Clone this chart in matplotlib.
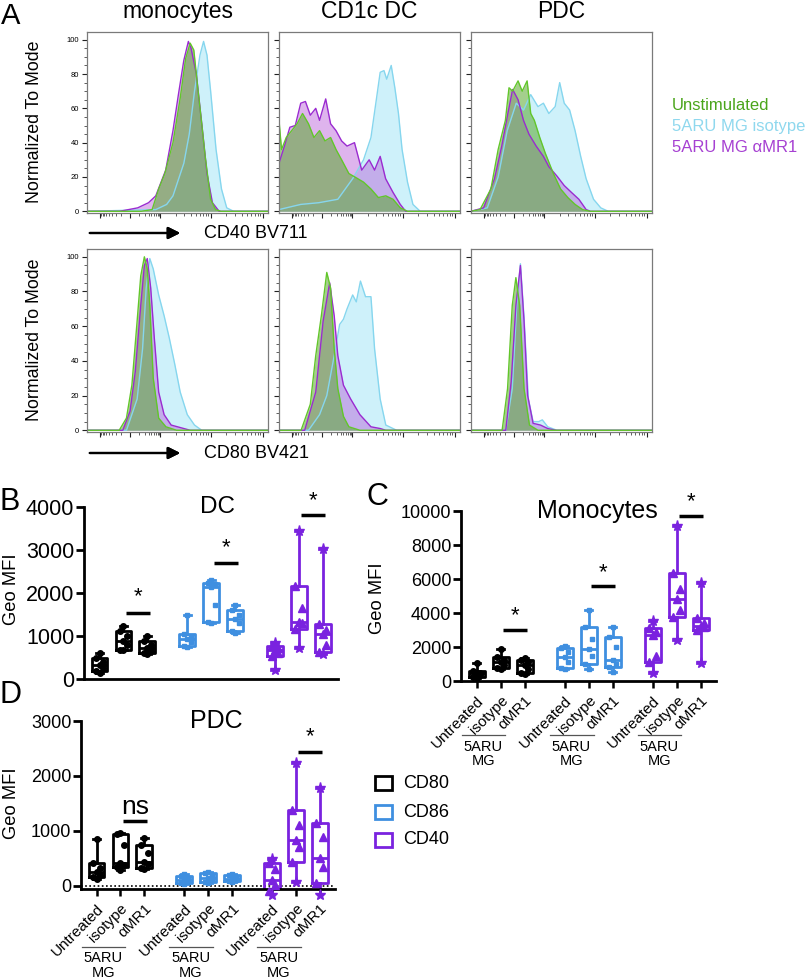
import numpy as np
import matplotlib
matplotlib.use('Agg')
import matplotlib.pyplot as plt
from matplotlib.patches import Rectangle
from matplotlib.transforms import blended_transform_factory

plt.rcParams['font.family'] = ['Liberation Sans', 'DejaVu Sans']

# ---------------- panel A: histograms (x = % of axis width, y = % of mode)
mono_cd40_green = [(0, 0), (30, 0), (36, 1), (39.6, 13), (43, 22), (47.5, 40), (51.5, 66), (54.5, 89), (57, 98),
                   (59, 94), (61.4, 70), (63.5, 50), (65.3, 32), (68.3, 7), (71, 1), (74, 0), (100, 0)]
mono_cd40_purple = [(0, 0), (18, 0), (28, 2), (34, 5), (38, 9), (43.5, 24), (47.5, 47), (50.5, 68), (53.5, 88),
                    (56, 99), (57.5, 95), (60.4, 80), (63.4, 51), (66.3, 22), (69.3, 5), (73, 0), (100, 0)]
mono_cd40_blue = [(0, 0), (38, 1), (44, 4), (47.5, 9), (53.5, 28), (56.5, 45), (59.4, 70), (62.4, 91), (64.4, 99),
                  (66.3, 91), (68.3, 70), (71.3, 36), (74.3, 13), (77.2, 2), (81, 0), (100, 0)]

dc_cd40_green = [(0, 53), (1.4, 36), (4, 43), (7, 47), (10, 51), (13, 57), (16.3, 51), (19.3, 43), (22.4, 47),
                 (25.4, 41), (28.5, 43), (31.5, 36), (34.6, 30), (38.6, 22), (42.7, 19.5), (46.7, 17), (50.8, 13),
                 (54.9, 8), (59, 9), (63, 7), (67, 2), (71, 0), (100, 0)]
dc_cd40_purple = [(0, 28), (3, 38), (6, 49), (9, 50), (12, 63), (14.6, 64), (17.3, 56), (20.3, 60), (22.4, 53),
                  (25.8, 65.5), (28.5, 51), (31.5, 47), (34.6, 41), (37.6, 38), (41.7, 40), (45.7, 24), (49.8, 30),
                  (52.8, 24), (55.9, 32), (58.9, 19), (63, 11), (67, 4), (70, 0), (100, 0)]
dc_cd40_blue = [(0, 1), (12, 4), (22, 5), (32.5, 7), (40.7, 19), (46.7, 30), (50.8, 43), (53.9, 66), (55.9, 81),
                (58, 82), (59.5, 77), (62, 85), (64, 72), (66, 57), (68, 36), (71, 17), (74, 4), (78, 0), (100, 0)]

pdc_cd40_green = [(0, 0), (5, 1), (11, 13), (15, 36), (19, 53), (21, 72), (23, 70), (26, 76), (28.3, 70), (31, 76),
                  (33, 57), (35, 53), (38, 43), (41, 34), (45.5, 22), (49.5, 13), (53.5, 8), (57.5, 4), (61.6, 1),
                  (65.6, 0), (100, 0)]
pdc_cd40_purple = [(0, 0), (7, 2), (13, 19), (17, 38), (20, 55), (23, 71), (26, 65), (29, 53), (32, 45), (36, 38),
                   (40, 32), (43, 26), (47.5, 20.5), (51.5, 15), (55.5, 11), (59.6, 7), (63.6, 1), (66, 0), (100, 0)]
pdc_cd40_blue = [(0, 0), (9, 2), (15, 20), (20, 47), (25, 63), (29, 59), (33, 68), (37, 61), (40, 63), (43, 57),
                 (46.5, 61), (49, 75), (51.5, 63), (54.5, 59), (57.5, 47), (60.6, 32), (63.6, 19), (67.7, 7),
                 (71.7, 2), (75.8, 0), (100, 0)]

mono_cd80_green = [(0, 0), (17.8, 0), (21.8, 7), (24.8, 26), (27.7, 63), (29.7, 89), (31.7, 100), (33.3, 93),
                   (34.7, 72), (36.6, 30), (39.6, 7), (43.6, 2), (49.5, 0), (100, 0)]
mono_cd80_purple = [(0, 0), (19.8, 0), (23.8, 11), (26.7, 34), (29.7, 72), (31.7, 95), (33.3, 99), (35.2, 82),
                    (37.2, 53), (39.6, 22), (42.6, 9), (46.5, 3), (53.5, 1), (57, 0), (100, 0)]
mono_cd80_blue = [(0, 0), (21.8, 0), (27.7, 18), (30.7, 47), (32.7, 82), (34.7, 99), (36.6, 93), (39.6, 78),
                  (42.6, 66), (45.5, 53), (48.5, 38), (51.5, 22), (55.4, 9), (59.4, 3), (63.4, 0), (100, 0)]

dc_cd80_green = [(0, 0), (12.2, 0), (17.3, 15), (20.3, 43), (23.4, 66), (26.4, 91), (28.5, 82), (30.5, 47),
                 (32.5, 24), (35.6, 8), (38.6, 2), (44.7, 0), (100, 0)]
dc_cd80_purple = [(0, 0), (14.2, 0), (20.3, 22), (24.4, 63), (28, 85), (30.5, 66), (32.5, 43), (35.6, 26),
                  (39.6, 18), (44.7, 9), (50.8, 2), (55.9, 1), (59, 0), (100, 0)]
dc_cd80_blue = [(0, 0), (16.3, 0), (22.4, 9), (26.4, 20), (30.5, 43), (33.5, 61), (35.6, 64), (37.6, 70),
                (40.7, 78), (42.7, 74), (45, 86), (47.8, 77), (50.8, 77), (52.8, 47), (55.9, 18), (59, 3),
                (65, 0), (100, 0)]

pdc_cd80_green = [(0, 0), (17.2, 0), (20.2, 24), (22.8, 72), (24.8, 88), (26.9, 72), (29.3, 24), (32.3, 3),
                  (37, 0), (100, 0)]
pdc_cd80_purple = [(0, 0), (19.2, 0), (22.2, 28), (24.8, 72), (27.3, 95), (29.3, 63), (31.3, 20), (34.3, 4),
                   (38.4, 3), (42.4, 1), (47, 0), (100, 0)]
pdc_cd80_blue = [(0, 0), (19.2, 0), (22.8, 24), (25.3, 72), (27.3, 96), (29.3, 65), (31.7, 18), (34.3, 5),
                 (37.4, 5), (39.4, 6), (42.4, 2), (47.5, 0), (100, 0)]

hist_titles = ['monocytes', 'CD1c DC', 'PDC']
legend_a = ['Unstimulated', '5ARU MG isotype', '5ARU MG \u03b1MR1']

# ---------------- panels B-D: Geo MFI, 7 donors per condition
xlabels = ['Untreated', 'isotype', '\u03b1MR1']
markers = ['CD80', 'CD86', 'CD40']

dc_cd80 = [[140, 190, 260, 330, 400, 490, 610], [670, 685, 800, 880, 1000, 1118, 1236],
           [583, 606, 650, 724, 800, 882, 1000]]
dc_cd86 = [[748, 764, 850, 921, 980, 1039, 1488], [1300, 1315, 1727, 2150, 2200, 2234, 2312],
           [1063, 1118, 1300, 1394, 1500, 1609, 1727]]
dc_cd40 = [[213, 528, 600, 685, 720, 764, 843], [724, 1157, 1300, 1315, 1648, 2156, 3445],
           [590, 622, 800, 1039, 1150, 1276, 3031]]

mono_cd80 = [[155, 252, 350, 446, 500, 600, 1066], [678, 736, 950, 1124, 1250, 1415, 1903],
             [407, 446, 700, 930, 1100, 1221, 1360]]
mono_cd86 = [[698, 736, 1100, 1400, 1700, 1942, 2039], [678, 1027, 1500, 1903, 2500, 3163, 4190],
             [543, 833, 1000, 1221, 2000, 2581, 3163]]
mono_cd40 = [[446, 1124, 1500, 2700, 2900, 3105, 3550], [2388, 3744, 4200, 4810, 5400, 6360, 9112],
             [1066, 3027, 3150, 3260, 3400, 3686, 5779]]

pdc_cd80 = [[121, 158, 200, 261, 321, 424, 848], [291, 352, 390, 412, 745, 940, 960],
            [309, 321, 400, 442, 600, 745, 867]]
pdc_cd86 = [[40, 60, 90, 110, 140, 190, 210], [50, 70, 120, 140, 180, 230, 260],
            [70, 85, 110, 130, 160, 200, 220]]
pdc_cd40 = [[-164, -85, 20, 100, 300, 412, 485], [79, 442, 715, 836, 1109, 1382, 2230],
            [-164, 61, 352, 503, 897, 1139, 1788]]

# significance bars (marker group, bar height, label height, label)
dc_sig = [(0, 1531, 1922, '*'), (1, 2703, 3055, '*'), (2, 3812, 4148, '*')]
mono_sig = [(0, 3027, 3841, '*'), (1, 5585, 6360, '*'), (2, 9694, 10527, '*')]
pdc_sig = [(0, 1188, 1440, 'ns'), (2, 2436, 2709, '*')]

# ---------------------------------------------------------------- layout
W, H = 810, 980
fig = plt.figure(figsize=(W / 100, H / 100), dpi=100)


def axes_px(x0, y0, x1, y1):
    return fig.add_axes([x0 / W, 1 - y1 / H, (x1 - x0) / W, (y1 - y0) / H])


def ftext(x, y, s, **kw):
    fig.text(x / W, 1 - y / H, s, **kw)


GREEN, LBLUE, PURP = '#62c62a', '#86d6ee', '#9a2bd0'

hist_rows = [[mono_cd40_green, mono_cd40_purple, mono_cd40_blue],
             [dc_cd40_green, dc_cd40_purple, dc_cd40_blue],
             [pdc_cd40_green, pdc_cd40_purple, pdc_cd40_blue]], \
            [[mono_cd80_green, mono_cd80_purple, mono_cd80_blue],
             [dc_cd80_green, dc_cd80_purple, dc_cd80_blue],
             [pdc_cd80_green, pdc_cd80_purple, pdc_cd80_blue]]

col_x = [(87, 268), (279, 460), (471, 652)]
row_y = [(32, 213), (249, 432)]

# biexponential-looking tick marks
maj = [7, 24, 40.6, 68.3, 97]
mnr = [24 - 17 * np.log10(k) for k in range(2, 10)]
for a, b in [(24, 40.6), (40.6, 68.3), (68.3, 97)]:
    mnr += [a + (b - a) * np.log10(k) for k in range(2, 10)]

for r, row in enumerate(hist_rows):
    for c, (g, p, b) in enumerate(row):
        ax = axes_px(col_x[c][0], row_y[r][0], col_x[c][1], row_y[r][1])
        for curve, fc, ec, al in [(b, '#aee9f8', LBLUE, 0.6), (p, '#b65ad8', PURP, 0.45),
                                  (g, '#5aa82e', GREEN, 0.55)]:
            xs, ys = zip(*curve)
            ax.fill_between(xs, ys, color=fc, alpha=al, lw=0)
            ax.plot(xs, ys, color=ec, lw=1)
        ax.set_xlim(0, 100)
        ax.set_ylim(-1, 104.5)
        ax.set_yticks(range(0, 101, 20))
        ax.set_yticks(range(0, 101, 5), minor=True)
        ax.set_xticks(maj)
        ax.set_xticks(mnr, minor=True)
        ax.set_xticklabels([])
        ax.tick_params(axis='both', which='major', length=3.5, width=0.8, color='#222',
                       labelsize=5.5, pad=2)
        ax.tick_params(axis='both', which='minor', length=2, width=0.6, color='#444')
        if c > 0:
            ax.set_yticklabels([])
        for s in ax.spines.values():
            s.set_color('#7a7a7a')
            s.set_linewidth(0.9)
        if r == 0:
            ax.set_title(hist_titles[c], fontsize=16.5, pad=10)

ftext(11, 16, 'A', fontsize=21, ha='center', va='center')
for yc in [122, 340]:
    ftext(35, yc, 'Normalized To Mode', fontsize=12.8, rotation=90, ha='center', va='center')
for yc, lab in [(233, 'CD40 BV711'), (453, 'CD80 BV421')]:
    fig.add_artist(plt.annotate('', xy=(183, H - yc), xytext=(87, H - yc), xycoords='figure pixels',
                                textcoords='figure pixels',
                                arrowprops=dict(arrowstyle='-|>', lw=1.6, color='black',
                                                mutation_scale=18)))
    ftext(256, yc, lab, fontsize=13, ha='center', va='center')
for yc, lab, col in zip([106, 127, 147], legend_a, ['#4aa51a', '#8fd8ee', '#a640d2']):
    ftext(672, yc, lab, fontsize=12, color=col, va='center')

# ---------------------------------------------------------------- box plots
positions = [1, 2, 3, 4.67, 5.67, 6.67, 8.33, 9.33, 10.33]
box_cols = ['#000000', '#3f8fe0', '#7a22df']
offs = [0, -0.14, 0.14, 0, 0.14, -0.14, 0]


def box_panel(ax, groups, ylim, yticks, tick_fs, sig, show_x=True):
    for gi, grp in enumerate(groups):
        col = box_cols[gi]
        for j, vals in enumerate(grp):
            pos = positions[gi * 3 + j]
            q1, med, q3 = np.percentile(vals, [25, 50, 75], method='weibull')
            st = [dict(med=med, q1=q1, q3=q3, whislo=min(vals), whishi=max(vals), fliers=[])]
            lp = dict(color=col, lw=2)
            ax.bxp(st, positions=[pos], widths=0.66, capwidths=0.3, showfliers=False,
                   boxprops=lp, whiskerprops=lp, capprops=lp, medianprops=lp, manage_ticks=False)
            order = np.argsort(vals)
            for k, idx in enumerate(order):
                v = vals[idx]
                if gi == 0:
                    m, ms = 'o', 4
                elif gi == 1:
                    m, ms = 's', 3.5
                else:
                    m, ms = ('*', 8) if k in (0, len(vals) - 1) else ('^', 6)
                ax.plot(pos + offs[k] * (0 if m == '*' else 1), v, marker=m, ms=ms, color=col,
                        mec=col, ls='none', clip_on=False, zorder=5)
    for gi, yb, yt, lab in sig:
        x1, x2 = positions[gi * 3 + 1] + 0.1, positions[gi * 3 + 2] + 0.1
        ax.plot([x1, x2], [yb, yb], color='k', lw=2.5, clip_on=False, solid_capstyle='butt')
        ax.text((x1 + x2) / 2, yt, lab, ha='center', va='center',
                fontsize=16 if lab == '*' else 19, clip_on=False)
    ax.set_xlim(0.35, 10.97)
    ax.set_ylim(*ylim)
    ax.set_yticks(yticks)
    ax.tick_params(axis='y', length=6, width=2, labelsize=tick_fs, pad=1)
    for s in ['top', 'right']:
        ax.spines[s].set_visible(False)
    for s in ['left', 'bottom']:
        ax.spines[s].set_linewidth(2)
    if show_x:
        ax.set_xticks(positions)
        ax.set_xticklabels(xlabels * 3, rotation=45, ha='right', rotation_mode='anchor', fontsize=11)
        ax.tick_params(axis='x', length=5, width=1.8, pad=4)
    else:
        ax.set_xticks([])


def group_labels(ax, y_line, y_text):
    tr = blended_transform_factory(ax.transData, ax.transAxes)
    for gi in range(3):
        u = positions[gi * 3]
        ax.plot([u - 0.62, u + 1.2], [y_line, y_line], color='#555', lw=0.9, transform=tr, clip_on=False)
        ax.text(u + 0.28, y_text, '5ARU\nMG', transform=tr, ha='center', va='top', fontsize=10.5,
                linespacing=1.05)


# B: DC
axB = axes_px(84, 507, 338, 679)
box_panel(axB, [dc_cd80, dc_cd86, dc_cd40], (0, 4000), [0, 1000, 2000, 3000, 4000], 15.5, dc_sig,
          show_x=False)
axB.text(5.95, 4000, 'DC', ha='center', va='center', fontsize=17.5)

# C: Monocytes
axC = axes_px(461, 511, 716, 681)
box_panel(axC, [mono_cd80, mono_cd86, mono_cd40], (0, 10000), list(range(0, 10001, 2000)), 13, mono_sig)
axC.text(6.05, 10000, 'Monocytes', ha='center', va='center', fontsize=18)
group_labels(axC, -0.318, -0.345)

# D: PDC
axD = axes_px(81, 721, 335, 889)
box_panel(axD, [pdc_cd80, pdc_cd86, pdc_cd40], (-55, 3000), [0, 1000, 2000, 3000], 13, pdc_sig)
axD.axhline(0, color='k', lw=1.2, ls=(0, (1, 1.5)), zorder=1)
axD.text(6.0, 3000, 'PDC', ha='center', va='center', fontsize=18)
group_labels(axD, -0.343, -0.37)

for x, y, s in [(10, 502, 'B'), (377, 497, 'C'), (10, 695, 'D')]:
    ftext(x, y, s, fontsize=22, ha='center', va='center')
for x, y in [(12, 589), (378, 598), (12, 803)]:
    ftext(x, y, 'Geo MFI', fontsize=13.2, rotation=90, ha='center', va='center')

# legend for B-D
for y, lab, col in zip([783, 812, 840], markers, box_cols):
    fig.add_artist(Rectangle((375 / W, 1 - (y + 7) / H), 17 / W, 14 / H, transform=fig.transFigure,
                             fill=False, ec=col, lw=2))
    ftext(403, y, lab, fontsize=13, va='center')

fig.savefig('out.png', dpi=100)
